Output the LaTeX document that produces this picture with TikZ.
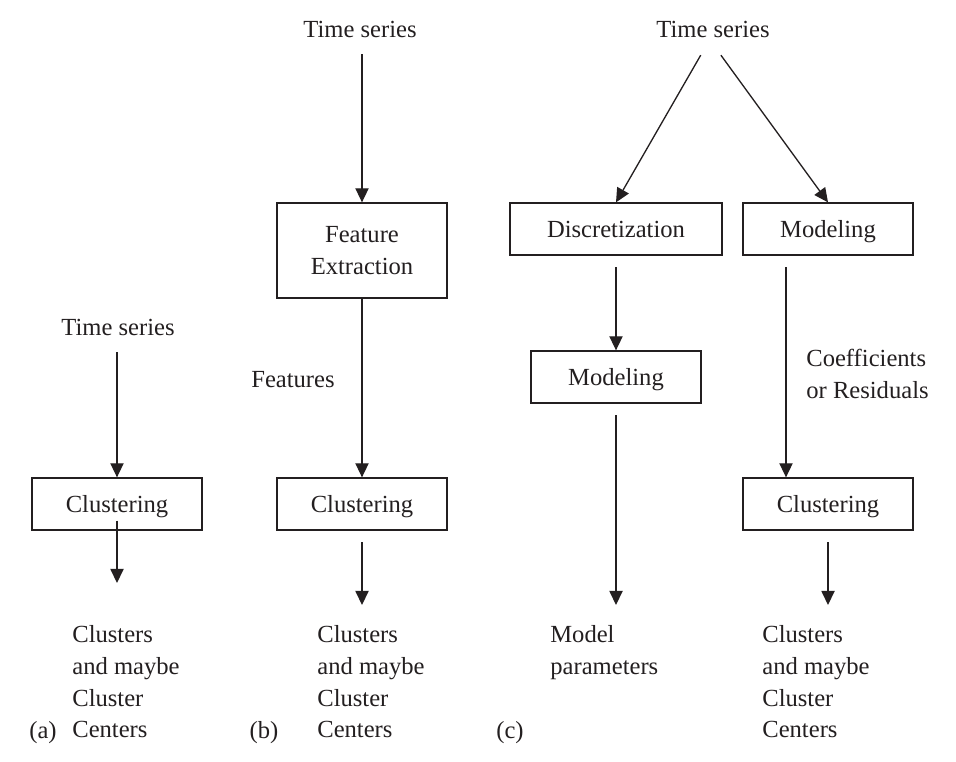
\documentclass[tikz,border=0pt]{standalone}
\usepackage{fontspec}
\setmainfont{Liberation Serif}
\usepackage{tikz}
\usetikzlibrary{arrows.meta}
\definecolor{ink}{HTML}{231F20}
\newcommand\labfont{\fontsize{14}{18.1}\selectfont}
\tikzset{
  base/.style={draw=ink, line width=0.75pt},
  arr/.style={base, -{Triangle[length=8pt,width=7.5pt]}},
  gap/.style={shorten <=6.5pt},
  box/.style={base, text=ink, font=\labfont, minimum width=3.4cm, minimum height=1.04cm, inner sep=0pt, text depth=0pt, align=center},
  lab/.style={text=ink, font=\labfont, inner sep=0pt},
  outtxt/.style={lab, align=left, anchor=north west},
  tag/.style={lab, anchor=base},
}

\begin{document}
\begin{tikzpicture}[x=0.02cm, y=-0.02cm]
  \useasboundingbox (0,0) rectangle (956,761);
  % (a)
  \node[lab] (tsA) at (118,327) {Time series};
  \node[box] (clA) at (117,504) {Clustering};
  \coordinate (endA) at (117,583);
  \node[outtxt] (outA) at (72,625) {Clusters\\and maybe\\Cluster\\Centers};
  \node[tag] (tagA) at (43,738) {(a)};
  \draw[arr,shorten <=9.5pt] (tsA.south -| clA.north) -- (clA.north);
  \draw[arr,shorten <=-5.7pt] (clA.south) -- (endA);
  % (b)
  \node[lab] (tsB) at (360,29) {Time series};
  \node[box,minimum height=1.9cm] (feB) at (362,250.5) {Feature\\Extraction};
  \node[box] (clB) at (362,504) {Clustering};
  \node[lab] (ftB) at (293,380) {Features};
  \coordinate (endB) at (362,605);
  \node[outtxt] (outB) at (317,625) {Clusters\\and maybe\\Cluster\\Centers};
  \node[tag] (tagB) at (264,738) {(b)};
  \draw[arr,shorten <=9.5pt] (tsB.south -| feB.north) -- (feB.north);
  \draw[arr] (feB.south) -- (clB.north);
  \draw[arr,gap] (clB.south) -- (endB);
  % (c)
  \node[lab] (tsC) at (713,29) {Time series};
  \node[box,minimum width=4.24cm] (dsC) at (616,229) {Discretization};
  \node[box] (mdR) at (828,229) {Modeling};
  \node[box] (mdM) at (616,377) {Modeling};
  \node[box] (clR) at (828,504) {Clustering};
  \node[outtxt] (cfR) at (806,349) {Coefficients\\or Residuals};
  \coordinate (endM) at (616,605);
  \coordinate (endR) at (828,605);
  \coordinate (colR) at (786,0);
  \node[outtxt] (outM) at (550,625) {Model\\parameters};
  \node[outtxt] (outR) at (762,625) {Clusters\\and maybe\\Cluster\\Centers};
  \node[tag] (tagC) at (510,738) {(c)};
  \draw[arr] ([xshift=-7pt,yshift=-10pt]tsC.south) -- (dsC.north);
  \draw[arr] ([xshift=4.5pt,yshift=-10pt]tsC.south) -- (mdR.north);
  \draw[arr,gap] (dsC.south) -- (mdM.north);
  \draw[arr,gap] (mdM.south) -- (endM);
  \draw[arr,gap] (mdR.south -| colR) -- (clR.north -| colR);
  \draw[arr,gap] (clR.south) -- (endR);
\end{tikzpicture}
\end{document}
